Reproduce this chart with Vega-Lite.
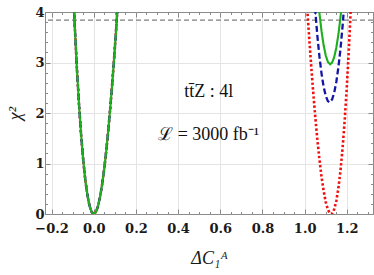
{
  "$schema": "https://vega.github.io/schema/vega-lite/v6.json",
  "width": 328,
  "height": 202,
  "autosize": {"type": "none"},
  "padding": {"left": 45, "top": 12, "right": 1, "bottom": 61},
  "background": "white",
  "config": {
    "view": {"stroke": "#8a8a8a", "strokeWidth": 1},
    "axis": {
      "domain": false,
      "tickColor": "#8a8a8a",
      "tickWidth": 1,
      "gridColor": "#e4e4e4",
      "labelColor": "#1a1a1a",
      "labelFont": "DejaVu Serif",
      "labelFontWeight": "bold",
      "labelFontSize": 13,
      "titleColor": "#1a1a1a",
      "titleFont": "Liberation Serif",
      "titleFontStyle": "italic",
      "titleFontWeight": "normal",
      "titleFontSize": 18
    }
  },
  "datasets": {
    "curves": [
      {"series": "red", "part": "a", "x": -0.11, "chi2": 5.758},
      {"series": "red", "part": "a", "x": -0.10, "chi2": 4.682},
      {"series": "red", "part": "a", "x": -0.09, "chi2": 3.731},
      {"series": "red", "part": "a", "x": -0.08, "chi2": 2.899},
      {"series": "red", "part": "a", "x": -0.07, "chi2": 2.183},
      {"series": "red", "part": "a", "x": -0.06, "chi2": 1.577},
      {"series": "red", "part": "a", "x": -0.05, "chi2": 1.077},
      {"series": "red", "part": "a", "x": -0.04, "chi2": 0.678},
      {"series": "red", "part": "a", "x": -0.03, "chi2": 0.375},
      {"series": "red", "part": "a", "x": -0.02, "chi2": 0.164},
      {"series": "red", "part": "a", "x": -0.01, "chi2": 0.040},
      {"series": "red", "part": "a", "x": 0.0, "chi2": 0.0},
      {"series": "red", "part": "a", "x": 0.01, "chi2": 0.039},
      {"series": "red", "part": "a", "x": 0.02, "chi2": 0.152},
      {"series": "red", "part": "a", "x": 0.03, "chi2": 0.337},
      {"series": "red", "part": "a", "x": 0.04, "chi2": 0.588},
      {"series": "red", "part": "a", "x": 0.05, "chi2": 0.901},
      {"series": "red", "part": "a", "x": 0.06, "chi2": 1.274},
      {"series": "red", "part": "a", "x": 0.07, "chi2": 1.702},
      {"series": "red", "part": "a", "x": 0.08, "chi2": 2.181},
      {"series": "red", "part": "a", "x": 0.09, "chi2": 2.707},
      {"series": "red", "part": "a", "x": 0.10, "chi2": 3.278},
      {"series": "red", "part": "a", "x": 0.11, "chi2": 3.889},
      {"series": "red", "part": "a", "x": 0.12, "chi2": 4.538},
      {"series": "red", "part": "b", "x": 1.00, "chi2": 4.875},
      {"series": "red", "part": "b", "x": 1.01, "chi2": 4.209},
      {"series": "red", "part": "b", "x": 1.02, "chi2": 3.579},
      {"series": "red", "part": "b", "x": 1.03, "chi2": 2.987},
      {"series": "red", "part": "b", "x": 1.04, "chi2": 2.438},
      {"series": "red", "part": "b", "x": 1.05, "chi2": 1.935},
      {"series": "red", "part": "b", "x": 1.06, "chi2": 1.481},
      {"series": "red", "part": "b", "x": 1.07, "chi2": 1.081},
      {"series": "red", "part": "b", "x": 1.08, "chi2": 0.737},
      {"series": "red", "part": "b", "x": 1.09, "chi2": 0.454},
      {"series": "red", "part": "b", "x": 1.10, "chi2": 0.236},
      {"series": "red", "part": "b", "x": 1.11, "chi2": 0.087},
      {"series": "red", "part": "b", "x": 1.12, "chi2": 0.010},
      {"series": "red", "part": "b", "x": 1.125, "chi2": 0.0},
      {"series": "red", "part": "b", "x": 1.13, "chi2": 0.010},
      {"series": "red", "part": "b", "x": 1.14, "chi2": 0.091},
      {"series": "red", "part": "b", "x": 1.15, "chi2": 0.258},
      {"series": "red", "part": "b", "x": 1.16, "chi2": 0.514},
      {"series": "red", "part": "b", "x": 1.17, "chi2": 0.865},
      {"series": "red", "part": "b", "x": 1.18, "chi2": 1.314},
      {"series": "red", "part": "b", "x": 1.19, "chi2": 1.867},
      {"series": "red", "part": "b", "x": 1.20, "chi2": 2.527},
      {"series": "red", "part": "b", "x": 1.21, "chi2": 3.300},
      {"series": "red", "part": "b", "x": 1.22, "chi2": 4.191},
      {"series": "red", "part": "b", "x": 1.23, "chi2": 5.204},
      {"series": "blue", "part": "a", "x": -0.11, "chi2": 5.758},
      {"series": "blue", "part": "a", "x": -0.10, "chi2": 4.682},
      {"series": "blue", "part": "a", "x": -0.09, "chi2": 3.731},
      {"series": "blue", "part": "a", "x": -0.08, "chi2": 2.899},
      {"series": "blue", "part": "a", "x": -0.07, "chi2": 2.183},
      {"series": "blue", "part": "a", "x": -0.06, "chi2": 1.577},
      {"series": "blue", "part": "a", "x": -0.05, "chi2": 1.077},
      {"series": "blue", "part": "a", "x": -0.04, "chi2": 0.678},
      {"series": "blue", "part": "a", "x": -0.03, "chi2": 0.375},
      {"series": "blue", "part": "a", "x": -0.02, "chi2": 0.164},
      {"series": "blue", "part": "a", "x": -0.01, "chi2": 0.040},
      {"series": "blue", "part": "a", "x": 0.0, "chi2": 0.0},
      {"series": "blue", "part": "a", "x": 0.01, "chi2": 0.039},
      {"series": "blue", "part": "a", "x": 0.02, "chi2": 0.152},
      {"series": "blue", "part": "a", "x": 0.03, "chi2": 0.337},
      {"series": "blue", "part": "a", "x": 0.04, "chi2": 0.588},
      {"series": "blue", "part": "a", "x": 0.05, "chi2": 0.901},
      {"series": "blue", "part": "a", "x": 0.06, "chi2": 1.274},
      {"series": "blue", "part": "a", "x": 0.07, "chi2": 1.702},
      {"series": "blue", "part": "a", "x": 0.08, "chi2": 2.181},
      {"series": "blue", "part": "a", "x": 0.09, "chi2": 2.707},
      {"series": "blue", "part": "a", "x": 0.10, "chi2": 3.278},
      {"series": "blue", "part": "a", "x": 0.11, "chi2": 3.889},
      {"series": "blue", "part": "a", "x": 0.12, "chi2": 4.538},
      {"series": "blue", "part": "b", "x": 1.04, "chi2": 4.613},
      {"series": "blue", "part": "b", "x": 1.05, "chi2": 4.036},
      {"series": "blue", "part": "b", "x": 1.06, "chi2": 3.539},
      {"series": "blue", "part": "b", "x": 1.07, "chi2": 3.120},
      {"series": "blue", "part": "b", "x": 1.08, "chi2": 2.780},
      {"series": "blue", "part": "b", "x": 1.09, "chi2": 2.520},
      {"series": "blue", "part": "b", "x": 1.10, "chi2": 2.338},
      {"series": "blue", "part": "b", "x": 1.11, "chi2": 2.235},
      {"series": "blue", "part": "b", "x": 1.118, "chi2": 2.210},
      {"series": "blue", "part": "b", "x": 1.13, "chi2": 2.267},
      {"series": "blue", "part": "b", "x": 1.14, "chi2": 2.401},
      {"series": "blue", "part": "b", "x": 1.15, "chi2": 2.614},
      {"series": "blue", "part": "b", "x": 1.16, "chi2": 2.907},
      {"series": "blue", "part": "b", "x": 1.17, "chi2": 3.278},
      {"series": "blue", "part": "b", "x": 1.18, "chi2": 3.728},
      {"series": "blue", "part": "b", "x": 1.19, "chi2": 4.258},
      {"series": "blue", "part": "b", "x": 1.20, "chi2": 4.866},
      {"series": "green", "part": "a", "x": -0.11, "chi2": 5.758},
      {"series": "green", "part": "a", "x": -0.10, "chi2": 4.682},
      {"series": "green", "part": "a", "x": -0.09, "chi2": 3.731},
      {"series": "green", "part": "a", "x": -0.08, "chi2": 2.899},
      {"series": "green", "part": "a", "x": -0.07, "chi2": 2.183},
      {"series": "green", "part": "a", "x": -0.06, "chi2": 1.577},
      {"series": "green", "part": "a", "x": -0.05, "chi2": 1.077},
      {"series": "green", "part": "a", "x": -0.04, "chi2": 0.678},
      {"series": "green", "part": "a", "x": -0.03, "chi2": 0.375},
      {"series": "green", "part": "a", "x": -0.02, "chi2": 0.164},
      {"series": "green", "part": "a", "x": -0.01, "chi2": 0.040},
      {"series": "green", "part": "a", "x": 0.0, "chi2": 0.0},
      {"series": "green", "part": "a", "x": 0.01, "chi2": 0.039},
      {"series": "green", "part": "a", "x": 0.02, "chi2": 0.152},
      {"series": "green", "part": "a", "x": 0.03, "chi2": 0.337},
      {"series": "green", "part": "a", "x": 0.04, "chi2": 0.588},
      {"series": "green", "part": "a", "x": 0.05, "chi2": 0.901},
      {"series": "green", "part": "a", "x": 0.06, "chi2": 1.274},
      {"series": "green", "part": "a", "x": 0.07, "chi2": 1.702},
      {"series": "green", "part": "a", "x": 0.08, "chi2": 2.181},
      {"series": "green", "part": "a", "x": 0.09, "chi2": 2.707},
      {"series": "green", "part": "a", "x": 0.10, "chi2": 3.278},
      {"series": "green", "part": "a", "x": 0.11, "chi2": 3.889},
      {"series": "green", "part": "a", "x": 0.12, "chi2": 4.538},
      {"series": "green", "part": "b", "x": 1.06, "chi2": 4.416},
      {"series": "green", "part": "b", "x": 1.07, "chi2": 3.979},
      {"series": "green", "part": "b", "x": 1.08, "chi2": 3.621},
      {"series": "green", "part": "b", "x": 1.09, "chi2": 3.340},
      {"series": "green", "part": "b", "x": 1.10, "chi2": 3.137},
      {"series": "green", "part": "b", "x": 1.11, "chi2": 3.012},
      {"series": "green", "part": "b", "x": 1.121, "chi2": 2.965},
      {"series": "green", "part": "b", "x": 1.13, "chi2": 2.997},
      {"series": "green", "part": "b", "x": 1.14, "chi2": 3.106},
      {"series": "green", "part": "b", "x": 1.15, "chi2": 3.293},
      {"series": "green", "part": "b", "x": 1.16, "chi2": 3.558},
      {"series": "green", "part": "b", "x": 1.17, "chi2": 3.901},
      {"series": "green", "part": "b", "x": 1.18, "chi2": 4.323},
      {"series": "green", "part": "b", "x": 1.19, "chi2": 4.822}
    ],
    "notes": [
      {"x": 0.545, "chi2": 2.42, "label": "tt̄Z : 4l"},
      {"x": 0.545, "chi2": 1.57, "label": "ℒ = 3000 fb⁻¹"}
    ],
    "threshold": [{"chi2": 3.84}]
  },
  "layer": [
    {
      "data": {"name": "notes"},
      "mark": {"type": "point", "opacity": 0},
      "encoding": {
        "x": {"field": "x", "type": "quantitative", "scale": {"domain": [-0.231, 1.324], "nice": false, "zero": false},
          "axis": {"orient": "bottom", "values": [-0.2,0,0.2,0.4,0.6,0.8,1,1.2], "ticks": false, "labels": false, "grid": true, "title": null}},
        "y": {"field": "chi2", "type": "quantitative", "scale": {"domain": [0, 4], "nice": false, "zero": false},
          "axis": {"orient": "left", "values": [1,2,3], "ticks": false, "labels": false, "grid": true, "title": null}}
      }
    },
    {
      "data": {"name": "notes"},
      "mark": {"type": "point", "opacity": 0},
      "encoding": {
        "x": {"field": "x", "type": "quantitative", "scale": {"domain": [-0.231, 1.324], "nice": false, "zero": false},
          "axis": {"orient": "bottom", "values": [-0.2,-0.15,-0.1,-0.05,0,0.05,0.1,0.15,0.2,0.25,0.3,0.35,0.4,0.45,0.5,0.55,0.6,0.65,0.7,0.75,0.8,0.85,0.9,0.95,1,1.05,1.1,1.15,1.2,1.25,1.3], "tickSize": -2.5, "labels": false, "grid": false, "title": null}},
        "y": {"field": "chi2", "type": "quantitative", "scale": {"domain": [0, 4], "nice": false, "zero": false},
          "axis": {"orient": "left", "values": [0,0.2,0.4,0.6,0.8,1,1.2,1.4,1.6,1.8,2,2.2,2.4,2.6,2.8,3,3.2,3.4,3.6,3.8,4], "tickSize": -2.5, "labels": false, "grid": false, "title": null}}
      }
    },
    {
      "data": {"name": "notes"},
      "mark": {"type": "point", "opacity": 0},
      "encoding": {
        "x": {"field": "x", "type": "quantitative", "scale": {"domain": [-0.231, 1.324], "nice": false, "zero": false},
          "axis": {"orient": "top", "values": [-0.2,-0.15,-0.1,-0.05,0,0.05,0.1,0.15,0.2,0.25,0.3,0.35,0.4,0.45,0.5,0.55,0.6,0.65,0.7,0.75,0.8,0.85,0.9,0.95,1,1.05,1.1,1.15,1.2,1.25,1.3], "tickSize": -2.5, "labels": false, "grid": false, "title": null}},
        "y": {"field": "chi2", "type": "quantitative", "scale": {"domain": [0, 4], "nice": false, "zero": false},
          "axis": {"orient": "right", "values": [0,0.2,0.4,0.6,0.8,1,1.2,1.4,1.6,1.8,2,2.2,2.4,2.6,2.8,3,3.2,3.4,3.6,3.8,4], "tickSize": -2.5, "labels": false, "grid": false, "title": null}}
      }
    },
    {
      "data": {"name": "notes"},
      "mark": {"type": "point", "opacity": 0},
      "encoding": {
        "x": {"field": "x", "type": "quantitative", "scale": {"domain": [-0.231, 1.324], "nice": false, "zero": false},
          "axis": {"orient": "top", "values": [-0.2,0,0.2,0.4,0.6,0.8,1,1.2], "tickSize": -5, "labels": false, "grid": false, "title": null}},
        "y": {"field": "chi2", "type": "quantitative", "scale": {"domain": [0, 4], "nice": false, "zero": false},
          "axis": {"orient": "right", "values": [0,1,2,3,4], "tickSize": -5, "labels": false, "grid": false, "title": null}}
      }
    },
    {
      "data": {"name": "threshold"},
      "mark": {"type": "rule", "color": "#808080", "strokeWidth": 1.2, "strokeDash": [5, 3]},
      "encoding": {
        "y": {"field": "chi2", "type": "quantitative", "scale": {"domain": [0, 4], "nice": false, "zero": false}, "axis": null}
      }
    },
    {
      "data": {"name": "curves"},
      "transform": [{"filter": {"field": "series", "equal": "red"}}],
      "mark": {"type": "line", "clip": true, "color": "#f01010", "strokeWidth": 2.6, "strokeDash": [2.4, 2.2], "strokeCap": "butt"},
      "encoding": {
        "x": {"field": "x", "type": "quantitative", "scale": {"domain": [-0.231, 1.324], "nice": false, "zero": false},
          "axis": {"orient": "bottom", "values": [-0.2,0,0.2,0.4,0.6,0.8,1,1.2], "format": ".1f", "tickSize": -5, "labelPadding": 13, "grid": false, "title": "ΔC₁ᴬ", "titlePadding": 14}},
        "y": {"field": "chi2", "type": "quantitative", "scale": {"domain": [0, 4], "nice": false, "zero": false},
          "axis": {"orient": "left", "values": [0,1,2,3,4], "format": "d", "tickSize": -5, "labelPadding": 6, "grid": false, "title": "χ²", "titlePadding": 10}},
        "detail": {"field": "part"}
      }
    },
    {
      "data": {"name": "curves"},
      "transform": [{"filter": {"field": "series", "equal": "blue"}}],
      "mark": {"type": "line", "clip": true, "color": "#1515a5", "strokeWidth": 2.3, "strokeDash": [6, 3]},
      "encoding": {
        "x": {"field": "x", "type": "quantitative", "scale": {"domain": [-0.231, 1.324], "nice": false, "zero": false}, "axis": null},
        "y": {"field": "chi2", "type": "quantitative", "scale": {"domain": [0, 4], "nice": false, "zero": false}, "axis": null},
        "detail": {"field": "part"}
      }
    },
    {
      "data": {"name": "curves"},
      "transform": [{"filter": {"field": "series", "equal": "green"}}],
      "mark": {"type": "line", "clip": true, "color": "#1fae1f", "strokeWidth": 2.1},
      "encoding": {
        "x": {"field": "x", "type": "quantitative", "scale": {"domain": [-0.231, 1.324], "nice": false, "zero": false}, "axis": null},
        "y": {"field": "chi2", "type": "quantitative", "scale": {"domain": [0, 4], "nice": false, "zero": false}, "axis": null},
        "detail": {"field": "part"}
      }
    },
    {
      "data": {"name": "notes"},
      "mark": {"type": "text", "font": "Liberation Serif", "fontSize": 18, "color": "#111", "baseline": "middle", "align": "center"},
      "encoding": {
        "x": {"field": "x", "type": "quantitative", "scale": {"domain": [-0.231, 1.324], "nice": false, "zero": false}, "axis": null},
        "y": {"field": "chi2", "type": "quantitative", "scale": {"domain": [0, 4], "nice": false, "zero": false}, "axis": null},
        "text": {"field": "label"}
      }
    }
  ],
  "resolve": {"axis": {"x": "independent", "y": "independent"}}
}
